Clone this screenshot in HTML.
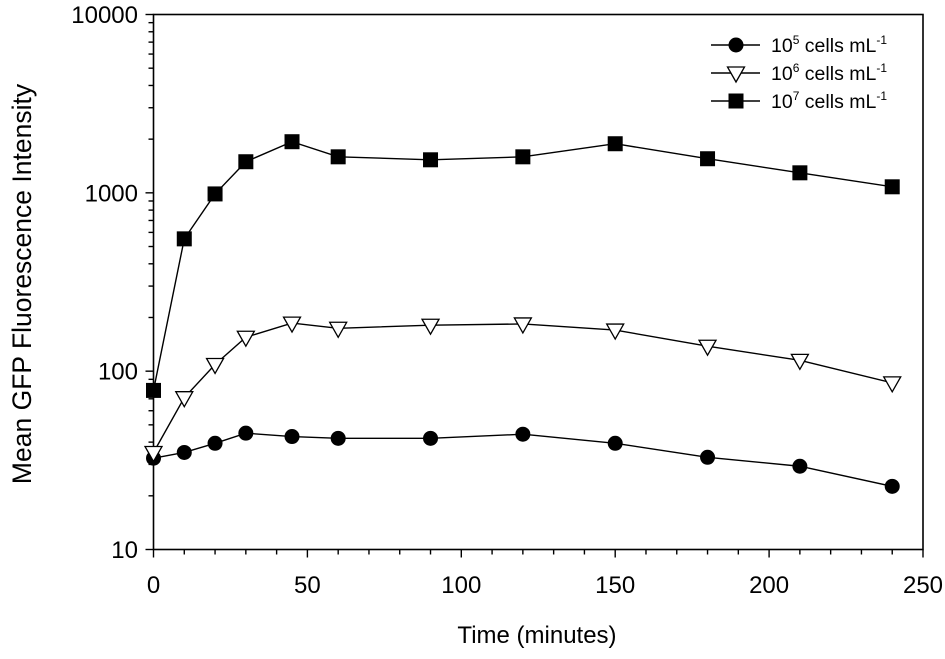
<!DOCTYPE html>
<html><head><meta charset="utf-8"><style>
html,body{margin:0;padding:0;background:#fff;}
svg{display:block;font-family:"Liberation Sans",Arial,sans-serif;}
</style></head><body>
<svg id="chart" width="945" height="659" viewBox="0 0 945 659"></svg>
<script>
const times = [0,10,20,30,45,60,90,120,150,180,210,240];
const series5 = [32.5,35,39.4,44.9,43,42,42,44.3,39.4,32.9,29.3,22.6];
const series6 = [35,71,109,155,186,174,181,184,170,138,115,86];
const series7 = [78,552,986,1494,1935,1592,1532,1592,1885,1553,1295,1081];
const xTicks = [0,50,100,150,200,250];
const yTicks = [10,100,1000,10000];
const seriesNames = ["10^5","10^6","10^7"];

const NS="http://www.w3.org/2000/svg";
const svg=document.getElementById('chart');
const X0=153.5,X1=923,Y0=549.5,Y1=14.5;
function xs(t){return X0+(t/250)*(X1-X0);}
function ys(v){return Y0-(Math.log10(v)-1)/3*(Y0-Y1);}
function mk(tag,attrs,parent){const e=document.createElementNS(NS,tag);for(const k in attrs)e.setAttribute(k,attrs[k]);(parent||svg).appendChild(e);return e;}

const frame=mk('rect',{x:X0,y:Y1,width:X1-X0,height:Y0-Y1,fill:'none',stroke:'#000','stroke-width':1.6});



for(let t=0;t<=250;t+=10){
  const major=t%50===0;
  const tk=mk('line',{x1:xs(t),x2:xs(t),y1:Y0,y2:Y0+(major?8:5),stroke:'#000','stroke-width':1.4});
  
  
}
xTicks.forEach(t=>{
  const l=mk('text',{x:xs(t),y:593,'text-anchor':'middle','font-size':24});
  l.textContent=t;
  
  
});
for(let d=1;d<=3;d++){
  for(let m=1;m<=9;m++){
    const v=Math.pow(10,d)*m;
    const tk=mk('line',{x1:X0,x2:X0-(m===1?8:5),y1:ys(v),y2:ys(v),stroke:'#000','stroke-width':1.4});
    
    
  }
}
{const tk=mk('line',{x1:X0,x2:X0-8,y1:ys(10000),y2:ys(10000),stroke:'#000','stroke-width':1.4});

}
yTicks.forEach(v=>{
  const l=mk('text',{x:138,y:ys(v)+8.5,'text-anchor':'end','font-size':24});
  l.textContent=v;
  
  
});
const xt=mk('text',{x:537,y:643,'text-anchor':'middle','font-size':24});
xt.textContent='Time (minutes)';


const yt=mk('text',{x:0,y:0,'text-anchor':'middle','font-size':26.5,transform:'translate(31,284) rotate(-90)'});
yt.textContent='Mean GFP Fluorescence Intensity';



function marker(type,cx,cy,g){
  let e;
  if(type===0) e=mk('circle',{cx:cx,cy:cy,r:7.5,fill:'#000'},g);
  else if(type===1) e=mk('polygon',{points:`${cx-8.5},${cy-6} ${cx+8.5},${cy-6} ${cx},${cy+9}`,fill:'#fff',stroke:'#000','stroke-width':1.3},g);
  else e=mk('rect',{x:cx-7.5,y:cy-7.5,width:15,height:15,fill:'#000'},g);
  return e;
}
const allSeries=[series5,series6,series7];
const snames=['series-1e5','series-1e6','series-1e7'];
allSeries.forEach((s,i)=>{
  const g=mk('g',{});
  
  
  const pl=mk('polyline',{points:s.map((v,j)=>xs(times[j])+','+ys(v)).join(' '),fill:'none',stroke:'#000','stroke-width':1.4},g);
  
  
  s.forEach((v,j)=>{
    const m=marker(i,xs(times[j]),ys(v),g);
    
    
  });
});
const lg=mk('g',{});


const exps=['5','6','7'];
exps.forEach((e,i)=>{
  const y=45+i*28;
  const row=mk('g',{},lg);
  
  
  mk('line',{x1:711,x2:760,y1:y,y2:y,stroke:'#000','stroke-width':1.4},row);
  marker(i,736,y,row);
  const t=mk('text',{x:771,y:y+7,'font-size':19.5},row);
  t.innerHTML=`10<tspan dy="-8" font-size="12">${e}</tspan><tspan dy="8"> cells mL</tspan><tspan dy="-8" font-size="12">-1</tspan>`;
});
</script>
</body></html>
